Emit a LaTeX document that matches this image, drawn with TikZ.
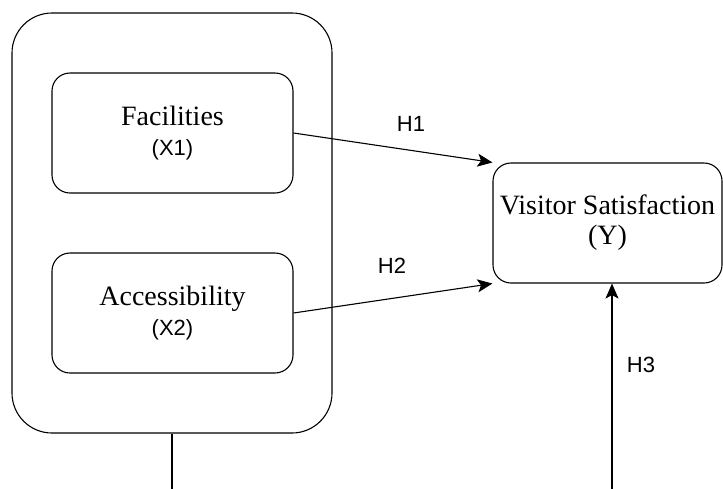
\documentclass[tikz,border=0pt]{standalone}
\usepackage{fontspec}
\setmainfont{Liberation Serif}
\newfontfamily\labelfont{Liberation Sans}
\usetikzlibrary{arrows.meta}

\begin{document}
\begin{tikzpicture}[x=1pt,y=-1pt,
    box/.style={draw,line width=1.1pt,rounded corners=18pt,align=center,inner sep=0pt,
      font=\fontsize{28}{30}\selectfont},
    arr/.style={line width=1.1pt,-{Stealth[length=15pt,width=13pt,inset=3.5pt]}},
    hyp/.style={font=\labelfont\fontsize{22}{26}\selectfont}]
  \useasboundingbox (0,0) rectangle (723,488);
  \clip (0,0) rectangle (723,488);
  \node[box,rounded corners=40pt,minimum width=320pt,minimum height=420pt] (group) at (172,223) {};
  \node[box,minimum width=241pt,minimum height=120pt] (fac) at (172.5,133)
    {Facilities\\{\labelfont\fontsize{22}{30}\selectfont(X1)}};
  \node[box,minimum width=241pt,minimum height=120pt] (acc) at (172.5,313)
    {Accessibility\\{\labelfont\fontsize{22}{30}\selectfont(X2)}};
  \node[box,minimum width=229pt,minimum height=120pt] (ysat) at (607.5,223)
    {Visitor Satisfaction\\(Y)};
  \coordinate (bend) at (612,505);
  \draw[arr] (fac.east) -- (ysat.north west);
  \draw[arr] (acc.east) -- (ysat.south west);
  \draw[arr] (group.south) |- (bend) -- (bend |- ysat.south);
  \node[hyp] (h1) at (411,124) {H1};
  \node[hyp] (h2) at (392,266) {H2};
  \node[hyp] (h3) at (641,365) {H3};
\end{tikzpicture}
\end{document}
